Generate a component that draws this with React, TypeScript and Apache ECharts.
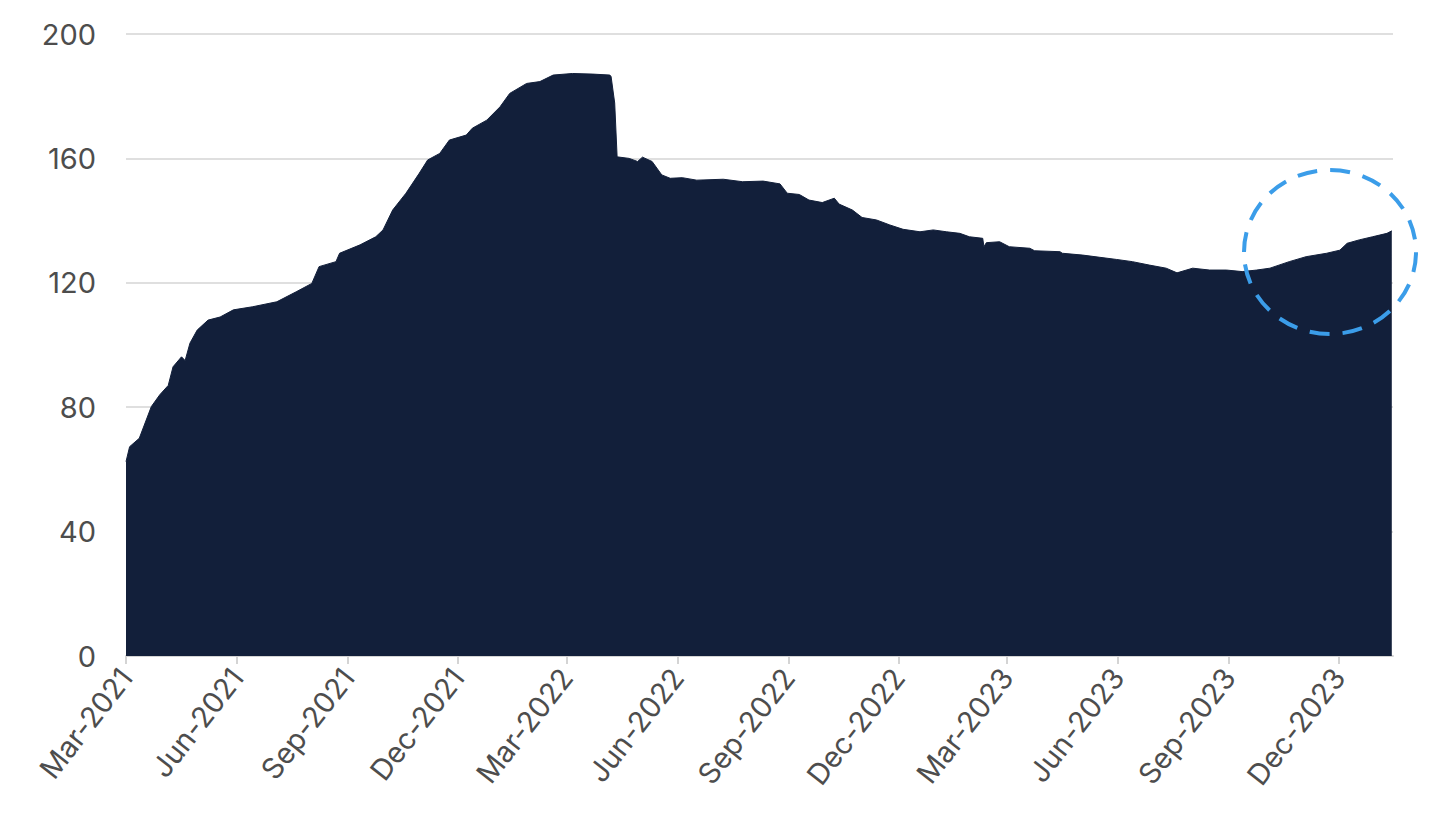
import React, { useEffect, useRef } from "react";
import * as echarts from "echarts";

const dates: string[] = [
  "2021-03-01", "2021-03-04", "2021-03-12", "2021-03-22", "2021-03-29", "2021-04-05",
  "2021-04-09", "2021-04-16", "2021-04-19", "2021-04-23", "2021-04-29", "2021-05-08",
  "2021-05-18", "2021-05-29", "2021-06-14", "2021-07-04", "2021-07-20", "2021-08-02",
  "2021-08-08", "2021-08-22", "2021-08-25", "2021-09-11", "2021-09-24", "2021-09-30",
  "2021-10-08", "2021-10-19", "2021-10-30", "2021-11-06", "2021-11-16", "2021-11-24",
  "2021-12-08", "2021-12-13", "2021-12-25", "2022-01-05", "2022-01-13", "2022-01-27",
  "2022-02-07", "2022-02-18", "2022-03-06", "2022-03-23", "2022-04-06", "2022-04-07",
  "2022-04-10", "2022-04-12", "2022-04-22", "2022-04-29", "2022-05-03", "2022-05-11",
  "2022-05-19", "2022-05-26", "2022-06-05", "2022-06-17", "2022-07-09", "2022-07-25",
  "2022-08-11", "2022-08-25", "2022-08-31", "2022-09-10", "2022-09-18", "2022-09-29",
  "2022-10-09", "2022-10-13", "2022-10-24", "2022-11-01", "2022-11-13", "2022-11-24",
  "2022-12-05", "2022-12-19", "2022-12-30", "2023-01-10", "2023-01-21", "2023-01-29",
  "2023-02-09", "2023-02-10", "2023-02-12", "2023-02-23", "2023-03-03", "2023-03-20",
  "2023-03-24", "2023-04-14", "2023-04-16", "2023-05-03", "2023-05-17", "2023-05-31",
  "2023-06-13", "2023-06-27", "2023-07-11", "2023-07-20", "2023-08-02", "2023-08-16",
  "2023-08-30", "2023-09-12", "2023-09-24", "2023-10-05", "2023-10-21", "2023-11-04",
  "2023-11-21", "2023-12-02", "2023-12-08", "2023-12-18", "2023-12-29", "2024-01-10",
  "2024-01-14",
];

const values: number[] = [
  62.5, 67.3, 70, 80.2, 84, 87,
  93, 96.2, 95, 100.6, 104.8, 108,
  109, 111.3, 112.3, 113.9, 117.1, 119.8,
  125.2, 126.8, 129.5, 132.2, 134.8, 137,
  143.4, 148.8, 155.2, 159.5, 161.6, 165.9,
  167.5, 169.7, 172.3, 176.6, 180.9, 184.1,
  184.7, 186.8, 187.3, 187.1, 186.8, 186.3,
  177.8, 160.5, 160, 159, 160.4, 159,
  154.7, 153.6, 153.8, 153, 153.3, 152.5,
  152.7, 151.8, 148.8, 148.4, 146.6, 145.8,
  147.2, 145.3, 143.4, 141, 140.2, 138.6,
  137.2, 136.4, 137, 136.4, 135.9, 134.8,
  134.3, 131.6, 132.9, 133.2, 131.6, 131.1,
  130.3, 130, 129.5, 128.9, 128.2, 127.5,
  126.8, 125.7, 124.7, 123.2, 124.7, 124.1,
  124.1, 123.6, 124.1, 124.7, 126.8, 128.4,
  129.5, 130.5, 132.7, 133.8, 134.8, 135.9,
  136.7,
];

const tickDates: string[] = [
  "2021-03-01", "2021-06-01", "2021-09-01", "2021-12-01",
  "2022-03-01", "2022-06-01", "2022-09-01", "2022-12-01",
  "2023-03-01", "2023-06-01", "2023-09-01", "2023-12-01",
];

const monthNames: string[] = ["Jan", "Feb", "Mar", "Apr", "May", "Jun", "Jul", "Aug", "Sep", "Oct", "Nov", "Dec"];

const yTicks: number[] = [0, 40, 80, 120, 160, 200];

const toTs = (s: string) => {
  const [y, m, d] = s.split("-").map(Number);
  return Date.UTC(y, m - 1, d);
};

export default function App() {
  const ref = useRef<HTMLDivElement>(null);

  useEffect(() => {
    if (!ref.current) return;
    const chart = echarts.init(ref.current, undefined, { renderer: "svg" });
    const seriesData = dates.map((d, i) => [toTs(d), values[i]]);
    const tickTs = tickDates.map(toTs);
    const font = "Inter, 'Noto Sans', sans-serif";
    chart.setOption({
      animation: false,
      backgroundColor: "#ffffff",
      grid: { left: 126, right: 63, top: 34, bottom: 165, outerBoundsMode: "none", containLabel: false },
      xAxis: {
        type: "value",
        min: toTs("2021-03-01"),
        max: toTs("2024-01-15"),
        axisLine: { show: true, onZero: false, lineStyle: { color: "#d4d4d4", width: 2 } },
        axisTick: { show: true, length: 8, lineStyle: { color: "#d4d4d4", width: 2 }, customValues: tickTs },
        splitLine: { show: false },
        axisLabel: {
          customValues: tickTs,
          rotate: 52,
          margin: 16,
          color: "#4d4d4d",
          fontSize: 29,
          fontFamily: font,
          showMinLabel: true,
          showMaxLabel: true,
          hideOverlap: false,
          formatter: (v: number) => {
            const dt = new Date(v);
            return monthNames[dt.getUTCMonth()] + "-" + dt.getUTCFullYear();
          },
        },
      },
      yAxis: {
        type: "value",
        min: yTicks[0],
        max: yTicks[yTicks.length - 1],
        interval: 40,
        axisLine: { show: false },
        axisTick: { show: false },
        splitLine: { show: true, lineStyle: { color: "#d4d4d4", width: 1.5 } },
        axisLabel: { color: "#4d4d4d", fontSize: 29, fontFamily: font, margin: 30 },
      },
      series: [
        {
          type: "line",
          data: seriesData,
          symbol: "none",
          smooth: false,
          lineStyle: { color: "#121f3a", width: 1 },
          areaStyle: { color: "#121f3a", opacity: 1 },
          z: 3,
        },
      ],
      graphic: [
        {
          type: "ellipse",
          shape: { cx: 1330, cy: 252, rx: 86, ry: 82 },
          style: { fill: "transparent", stroke: "#3b9de9", lineWidth: 4, lineDash: [20, 13] },
          z: 10,
        },
      ],
    });
    return () => chart.dispose();
  }, []);

  return (
    <div
      ref={ref}
      style={{ position: "fixed", left: 0, top: 0, width: 1456, height: 821, background: "#fff" }}
    />
  );
}
